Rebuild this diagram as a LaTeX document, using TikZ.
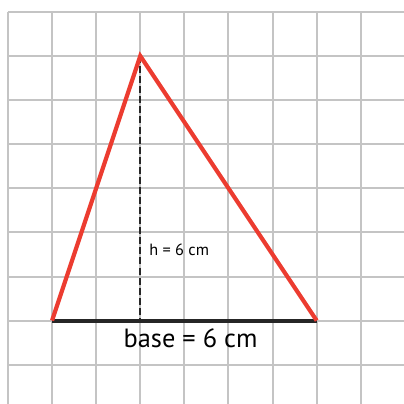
\documentclass[tikz,border=0pt]{standalone}
\usepackage{fontspec}
\setmainfont{PT Sans}
\definecolor{gridgray}{RGB}{196,196,196}
\definecolor{sidered}{RGB}{236,60,48}
\tikzset{
    gridline/.style={draw=gridgray,line width=1.3pt},
    side/.style={draw=sidered,line width=2.7pt},
    baseline/.style={line width=2.7pt,black!85},
    height/.style={line width=1.2pt,black!85,dash pattern=on 4.5pt off 2pt}
}
\begin{document}
\begin{tikzpicture}
        \useasboundingbox (-0.181,-0.886) rectangle (8.98,8.27);
        \foreach \i in {0,...,8} {
            \draw[gridline] (\i,-0.886) -- (\i,8);
            \draw[gridline] (0,\i) -- (8.98,\i);
        }

        \coordinate (left) at (1,1);
        \coordinate (right) at (7,1);
        \coordinate (apex) at (3,7);
        \coordinate (foot) at (3,1);

        \draw[height] (apex) -- (foot);
        \draw[baseline] (left) -- (right);
        \draw[side] (left) -- (apex) -- (right);

        \node[anchor=base west,inner sep=0pt,font=\fontsize{10.5}{12}\selectfont] (hlabel) at (3.2,2.48) {h = 6 cm};
        \node[anchor=base,inner sep=0pt,font=\fontsize{17}{20}\selectfont] (blabel) at (4.14,0.39) {base = 6 cm};
    \end{tikzpicture}
\end{document}
